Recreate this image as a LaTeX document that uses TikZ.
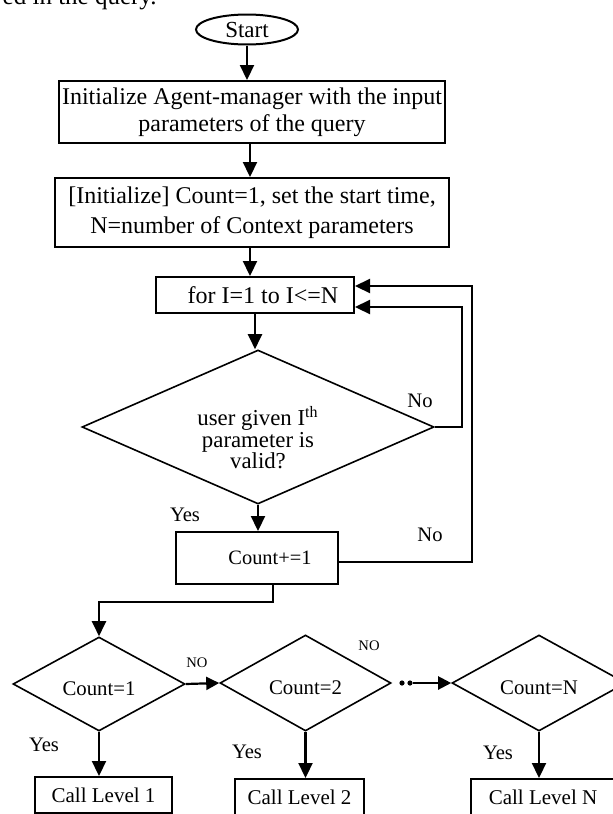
\documentclass[tikz,border=0pt]{standalone}
\usepackage{fontspec}
\setmainfont{Liberation Serif}
\usetikzlibrary{shapes.geometric,arrows.meta}
\newcommand{\lowtext}[1]{\raisebox{-5.5pt}[0pt][0pt]{#1}}
\begin{document}
\begin{tikzpicture}[x=0.5pt,y=-0.5pt,
  box/.style={draw,line width=1pt,inner sep=0pt,align=center},
  dia/.style={draw,diamond,line width=0.8pt,inner sep=0pt,font=\fontsize{10.4}{12}\selectfont},
  arr/.style={line width=1.1pt,-{Triangle[length=7.5pt,width=7pt]}},
  harr/.style={line width=1.1pt,-{Triangle[length=6.5pt,width=6.5pt]}},
  lbl/.style={font=\fontsize{10.3}{12}\selectfont,inner sep=0pt},
  sm/.style={font=\fontsize{7.3}{9}\selectfont,inner sep=0pt}]
\useasboundingbox (0,0) rectangle (613,814);
% caption fragment cut at the top
\node[anchor=base east,inner sep=0pt,font=\fontsize{12.5}{15}\selectfont] (cap) at (157,4.5) {ed in the query.};
% nodes
\node[draw,ellipse,line width=1pt,minimum width=51pt,minimum height=15pt,inner sep=0pt,font=\fontsize{11.5}{13}\selectfont] (start) at (247,29.5) {Start};
\node[box,minimum width=193pt,minimum height=31pt,font=\fontsize{12}{13.5}\selectfont] (box1) at (252,112) {Initialize Agent-manager with the input\\parameters of the query};
\node[box,minimum width=197pt,minimum height=34.5pt,font=\fontsize{12}{15}\selectfont] (box2) at (252,212.5) {[Initialize] Count=1, set the start time,\\N=number of Context parameters};
\node[box,minimum width=99pt,minimum height=18pt,font=\fontsize{12}{14}\selectfont] (box3) at (255,295) {\hspace{8pt}for I=1 to I<=N};
\node[dia,minimum width=176pt,minimum height=77pt] (d1) at (258,427) {};
\node[align=center,inner sep=0pt,font=\fontsize{11.4}{10.8}\selectfont] (d1t) at (258,438) {user given I\textsuperscript{th}\\parameter is\\valid?};
\node[box,minimum width=81pt,minimum height=26pt,font=\fontsize{10.2}{12}\selectfont] (b4) at (257,558) {\hspace{13pt}Count+=1};
\node[dia,minimum width=86pt,minimum height=47pt] (d2) at (99,684) {\lowtext{Count=1}};
\node[dia,minimum width=85.5pt,minimum height=48pt] (d3) at (305.5,683) {\lowtext{Count=2}};
\node[dia,minimum width=87pt,minimum height=48pt] (d4) at (539,683) {\lowtext{Count=N}};
\node[box,minimum width=68.5pt,minimum height=18pt,font=\fontsize{10.5}{12}\selectfont] (c1) at (103.5,795) {Call Level 1};
\node[box,minimum width=64.5pt,minimum height=18pt,font=\fontsize{10.5}{12}\selectfont] (c2) at (299.5,797) {Call Level 2};
\node[box,minimum width=72pt,minimum height=18pt,font=\fontsize{10.5}{12}\selectfont] (cN) at (543,797) {Call Level N};
% labels
\node[lbl] (no1) at (420,401) {No};
\node[lbl] (no2) at (430,535) {No};
\node[lbl] (yes1) at (185,515) {Yes};
\node[sm] (no3) at (197,663) {NO};
\node[sm] (no4) at (369,646) {NO};
\node[lbl] (yes2) at (44,745) {Yes};
\node[lbl] (yes3) at (247,752) {Yes};
\node[lbl] (yes4) at (498,753) {Yes};
% connectors
\draw[arr] (start.south) -- (start.south |- box1.north);
\draw[arr] ([xshift=-1pt]box1.south) -- ([xshift=-1pt]box1.south |- box2.north);
\draw[arr] ([xshift=-1pt]box2.south) -- ([xshift=-1pt]box2.south |- box3.north);
\draw[arr] (box3.south) -- (box3.south |- d1.north);
\draw[arr] (d1.south) -- (d1.south |- b4.north);
\coordinate (r1) at (462,307);
\coordinate (r2) at (472,286);
\draw[arr] (d1.east) -| (r1) -- (r1 -| box3.east);
\draw[arr] ([yshift=-2pt]b4.east) -| (r2) -- (r2 -| box3.east);
\coordinate (j) at (273,602);
\draw[arr] (b4.south -| j) -- (j) -| (d2.north);
\draw[harr] (d2.east) -- (d3.west);
\fill (402,683) circle (1.3pt);
\fill (410,683) circle (1.3pt);
\coordinate (dd) at (413,683);
\draw[harr] (dd) -- (d4.west);
\draw[arr] (d2.south) -- (d2.south |- c1.north);
\draw[arr] (d3.south) -- (d3.south |- c2.north);
\draw[arr] (d4.south) -- (d4.south |- cN.north);
\end{tikzpicture}
\end{document}
